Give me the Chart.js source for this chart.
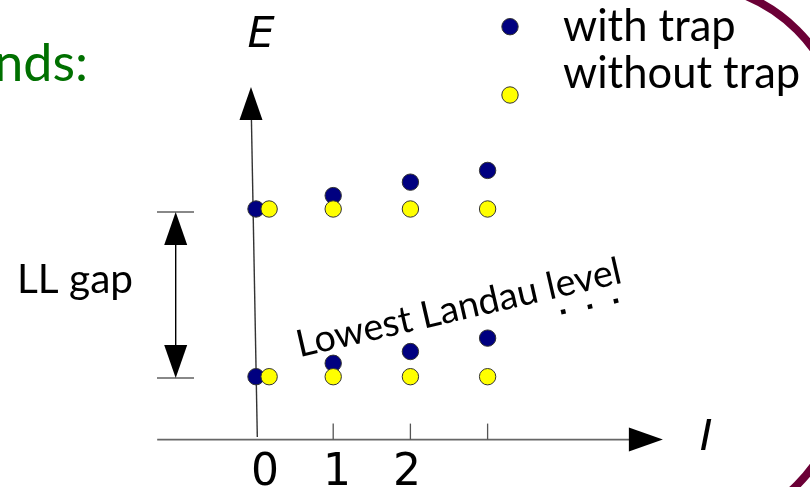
<!DOCTYPE html>
<html><head><meta charset="utf-8">
<script src="https://cdn.jsdelivr.net/npm/chart.js@4.4.0/dist/chart.umd.min.js"></script>
<style>html,body{margin:0;padding:0;background:#fff;overflow:hidden}#wrap{width:810px;height:487px}</style>
</head><body><div id="wrap"><canvas id="c" width="810" height="487"></canvas></div>
<script>
// ---- data ----
const angularMomentum = [0, 1, 2, 3];          // l values (x)
const withoutTrapL = [0.17, 1, 2, 3];          // first yellow point drawn slightly right of l=0
const withTrapLowest = [0, 0.08, 0.15, 0.23];  // E, lowest Landau level, with trap
const withTrapSecond = [1, 1.08, 1.16, 1.23];  // E, next Landau level, with trap
const withoutTrapLowest = [0, 0, 0, 0];
const withoutTrapSecond = [1, 1, 1, 1];
const tickLabels = ['0', '1', '2'];
const seriesNames = ['with trap', 'without trap'];

const NAVY = '#000080', YELLOW = '#ffff00', EDGE = '#333333';

function pts(xs, ys) { return xs.map((x, i) => ({ x: x, y: ys[i] })); }

function fitSize(ctx, text, family, style, width) {
  ctx.font = style + ' 100px ' + family;
  return 100 * width / ctx.measureText(text).width;
}

const decor = {
  id: 'decor',
  beforeDatasetsDraw(chart) {
    const ctx = chart.ctx, X = v => chart.scales.x.getPixelForValue(v), Y = v => chart.scales.y.getPixelForValue(v);
    ctx.save();
    // x axis
    const ay = Y(-0.375);
    ctx.strokeStyle = '#666'; ctx.lineWidth = 1.6;
    ctx.beginPath(); ctx.moveTo(X(-1.28), ay); ctx.lineTo(X(4.85), ay); ctx.stroke();
    ctx.fillStyle = '#000';
    ctx.beginPath(); ctx.moveTo(X(5.27), ay); ctx.lineTo(X(4.83), ay - 12); ctx.lineTo(X(4.83), ay + 12); ctx.closePath(); ctx.fill();
    // ticks
    ctx.strokeStyle = '#555'; ctx.lineWidth = 1.3;
    for (let i = 1; i < angularMomentum.length; i++) {
      const tx = X(angularMomentum[i]);
      ctx.beginPath(); ctx.moveTo(tx, ay - 16); ctx.lineTo(tx, ay); ctx.stroke();
    }
    // E axis (slightly tilted)
    ctx.strokeStyle = '#333'; ctx.lineWidth = 1.4;
    ctx.beginPath(); ctx.moveTo(X(-0.06), Y(1.55)); ctx.lineTo(X(0.017), Y(-0.36)); ctx.stroke();
    ctx.fillStyle = '#000';
    const tipX = X(-0.065), tipY = Y(1.727), baseY = Y(1.53);
    ctx.beginPath(); ctx.moveTo(tipX, tipY); ctx.lineTo(tipX - 11.5, baseY); ctx.lineTo(tipX + 11.5, baseY); ctx.closePath(); ctx.fill();
    ctx.restore();
  },
  afterDatasetsDraw(chart) {
    const ctx = chart.ctx, X = v => chart.scales.x.getPixelForValue(v), Y = v => chart.scales.y.getPixelForValue(v);
    ctx.save();
    ctx.textBaseline = 'alphabetic';
    // tick labels
    ctx.fillStyle = '#000';
    ctx.font = '44px "DejaVu Sans"';
    ctx.textAlign = 'center';
    const labelCx = [265, 337, 407];
    tickLabels.forEach((t, i) => ctx.fillText(t, labelCx[i], 485));
    // axis titles
    ctx.font = 'italic 43px "DejaVu Sans"';
    ctx.fillText('E', 261, 47);
    ctx.fillText('I', 706, 450);
    // green heading fragment
    ctx.textAlign = 'right';
    ctx.fillStyle = '#007000';
    ctx.font = '52px Lato';
    ctx.fillText('nds:', 88, 81);
    // LL gap label
    ctx.textAlign = 'left';
    ctx.fillStyle = '#000';
    let s = fitSize(ctx, 'LL gap', 'Lato', '', 116);
    ctx.font = s.toFixed(1) + 'px Lato';
    ctx.fillText('LL gap', 17, 293);
    // LL gap double arrow
    const gx = 175.7, gTop = Y(1) + 3, gBot = Y(0) + 1.3;
    ctx.strokeStyle = '#888'; ctx.lineWidth = 2;
    ctx.beginPath(); ctx.moveTo(157, gTop); ctx.lineTo(194, gTop); ctx.moveTo(157, gBot); ctx.lineTo(194, gBot); ctx.stroke();
    ctx.strokeStyle = '#000'; ctx.lineWidth = 1.4;
    ctx.beginPath(); ctx.moveTo(gx, gTop + 30); ctx.lineTo(gx, gBot - 30); ctx.stroke();
    ctx.fillStyle = '#000';
    ctx.beginPath(); ctx.moveTo(gx, gTop); ctx.lineTo(gx - 11.5, gTop + 33); ctx.lineTo(gx + 11.5, gTop + 33); ctx.closePath(); ctx.fill();
    ctx.beginPath(); ctx.moveTo(gx, gBot); ctx.lineTo(gx - 11.5, gBot - 33); ctx.lineTo(gx + 11.5, gBot - 33); ctx.closePath(); ctx.fill();
    // rotated label
    ctx.save();
    ctx.translate(299.5, 357.3);
    ctx.rotate(-13.0 * Math.PI / 180);
    s = fitSize(ctx, 'Lowest Landau level', 'Lato', '', 333);
    ctx.font = s.toFixed(1) + 'px Lato';
    ctx.fillText('Lowest Landau level', 0, 0);
    ctx.restore();
    // continuation dots
    [[563.3, 311.7], [590, 306.6], [616, 300.9]].forEach(p => {
      ctx.save(); ctx.translate(p[0], p[1]); ctx.rotate(-13 * Math.PI / 180);
      ctx.fillRect(-2.3, -2.3, 4.6, 4.6); ctx.restore();
    });
    // legend
    const dot = (x, y, c) => { ctx.beginPath(); ctx.arc(x, y, 8.2, 0, Math.PI * 2); ctx.fillStyle = c; ctx.fill(); ctx.lineWidth = 1; ctx.strokeStyle = EDGE; ctx.stroke(); };
    dot(510, 26.7, NAVY);
    dot(510, 95, YELLOW);
    ctx.fillStyle = '#000';
    s = fitSize(ctx, seriesNames[1], 'Lato', '', 237);
    ctx.font = s.toFixed(1) + 'px Lato';
    ctx.fillText(seriesNames[0], 563, 40.7);
    ctx.fillText(seriesNames[1], 563, 88.3);
    // slide frame corner
    ctx.strokeStyle = '#6b0036'; ctx.lineWidth = 8;
    ctx.beginPath();
    ctx.arc(686, 141, 157, -Math.PI / 2, 0);
    ctx.lineTo(843, 374);
    ctx.arc(686, 374, 157, 0, Math.PI / 2);
    ctx.stroke();
    ctx.restore();
  }
};

new Chart(document.getElementById('c'), {
  type: 'scatter',
  data: {
    datasets: [
      {
        label: seriesNames[0],
        data: pts(angularMomentum, withTrapLowest).concat(pts(angularMomentum, withTrapSecond)),
        backgroundColor: NAVY, borderColor: EDGE, borderWidth: 1,
        pointRadius: 8.2, pointHoverRadius: 8.2, order: 1, clip: false
      },
      {
        label: seriesNames[1],
        data: pts(withoutTrapL, withoutTrapLowest).concat(pts(withoutTrapL, withoutTrapSecond)),
        backgroundColor: YELLOW, borderColor: EDGE, borderWidth: 1,
        pointRadius: 8.2, pointHoverRadius: 8.2, order: 0, clip: false
      }
    ]
  },
  options: {
    responsive: false, animation: false, devicePixelRatio: 1,
    layout: { padding: 0, autoPadding: false },
    events: [],
    plugins: { legend: { display: false }, tooltip: { enabled: false }, title: { display: false } },
    scales: {
      x: { type: 'linear', display: false, min: -3.316, max: 7.176 },
      y: { type: 'linear', display: false, min: -0.6577, max: 2.2462 }
    }
  },
  plugins: [decor]
});
</script>
</body></html>
